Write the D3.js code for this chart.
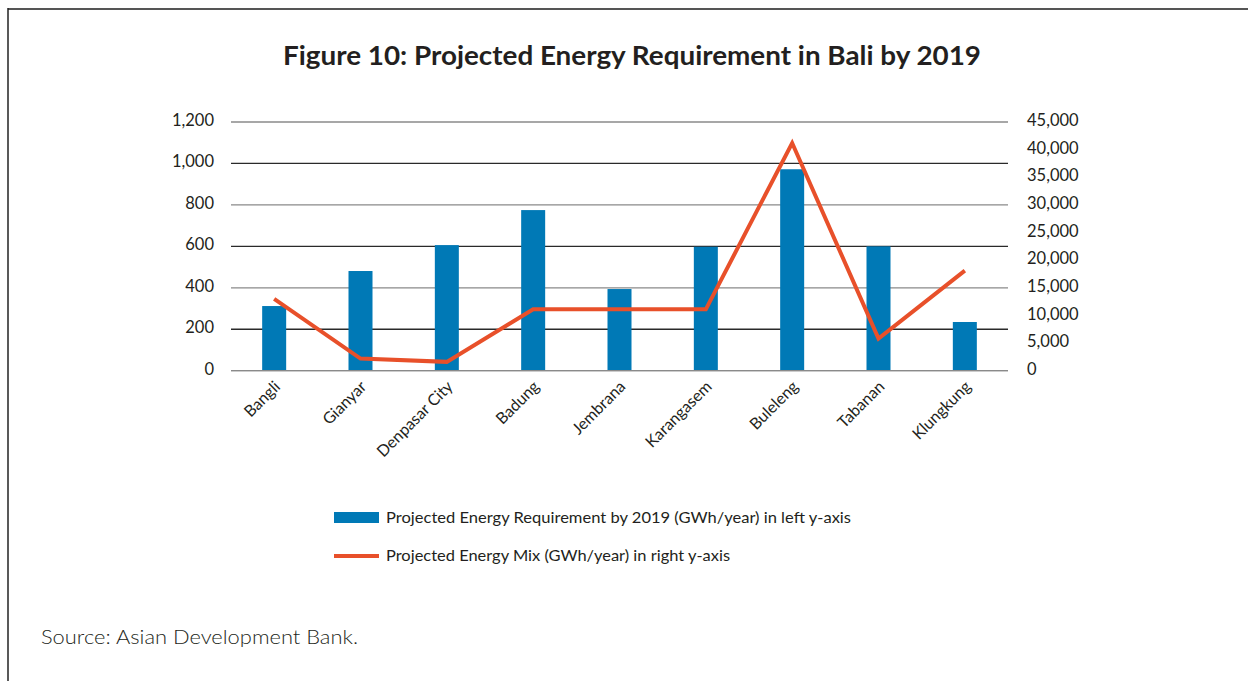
<!DOCTYPE html>
<html>
<head>
<meta charset="utf-8">
<script src="https://cdn.jsdelivr.net/npm/d3@7"></script>
<style>
  html, body { margin: 0; padding: 0; background: #fff; }
  svg { display: block; }
  text { font-family: Lato, "Open Sans", sans-serif; fill: #231f20; }
</style>
</head>
<body>
<svg id="chart" width="1248" height="681"></svg>
<script>
// Regencies / city of Bali
const regencies = ["Bangli", "Gianyar", "Denpasar City", "Badung", "Jembrana",
                   "Karangasem", "Buleleng", "Tabanan", "Klungkung"];
// Projected energy requirement by 2019 (GWh/year), left axis
const requirement = [312, 481, 606, 775, 394, 598, 972, 600, 235];
// Projected energy mix (GWh/year), right axis
const energyMix = [13000, 2200, 1600, 11100, 11100, 11100, 41200, 5800, 18100];
// Axis ticks
const leftTicks = [0, 200, 400, 600, 800, 1000, 1200];
const rightTicks = [0, 5000, 10000, 15000, 20000, 25000, 30000, 35000, 40000, 45000];

const barColor = "#0079b6";
const lineColor = "#e8502a";

const svg = d3.select("#chart");
const plot = { left: 231, right: 1008, top: 122, bottom: 370.7 };

// frame: top and left rules
svg.append("line").attr("x1", 8).attr("x2", 1248).attr("y1", 9).attr("y2", 9)
  .attr("stroke", "#555").attr("stroke-width", 2);
svg.append("line").attr("x1", 8).attr("x2", 8).attr("y1", 8).attr("y2", 681)
  .attr("stroke", "#222").attr("stroke-width", 1.5);

// title
svg.append("text")
  .attr("x", 632).attr("y", 65)
  .attr("text-anchor", "middle")
  .attr("font-size", 26).attr("font-weight", 700)
  .attr("textLength", 698).attr("lengthAdjust", "spacingAndGlyphs")
  .text("Figure 10: Projected Energy Requirement in Bali by 2019");

const x = d3.scaleBand().domain(regencies).range([plot.left, plot.right]).padding(0);
const yL = d3.scaleLinear().domain([0, 1200]).range([plot.bottom, plot.top]);
const yR = d3.scaleLinear().domain([0, 45000]).range([plot.bottom, plot.top]);

// horizontal gridlines at the left-axis ticks
svg.append("g").selectAll("line").data(leftTicks).join("line")
  .attr("x1", plot.left).attr("x2", plot.right)
  .attr("y1", d => yL(d)).attr("y2", d => yL(d))
  .attr("stroke", (d, i) => i % 2 === 0 ? "#8a8a8a" : "#2a2a2a")
  .attr("stroke-width", 1.3);

// left axis labels
const leftAxis = d3.axisLeft(yL).tickValues(leftTicks).tickSize(0).tickPadding(17)
  .tickFormat(d3.format(","));
svg.append("g").attr("transform", `translate(${plot.left},0)`).call(leftAxis)
  .call(g => g.select(".domain").remove())
  .selectAll("text").attr("font-size", 16.5).attr("font-family", "Lato, sans-serif")
  .attr("fill", "#231f20").attr("dy", "0.2em");

// right axis labels
const rightAxis = d3.axisRight(yR).tickValues(rightTicks).tickSize(0).tickPadding(19)
  .tickFormat(d3.format(","));
svg.append("g").attr("transform", `translate(${plot.right},0)`).call(rightAxis)
  .call(g => g.select(".domain").remove())
  .selectAll("text").attr("font-size", 16.5).attr("font-family", "Lato, sans-serif")
  .attr("fill", "#231f20").attr("dy", "0.22em");

// bars
const barW = 24;
svg.append("g").selectAll("rect").data(regencies).join("rect")
  .attr("x", d => x(d) + x.bandwidth() / 2 - barW / 2)
  .attr("width", barW)
  .attr("y", (d, i) => yL(requirement[i]))
  .attr("height", (d, i) => yL(0) - yL(requirement[i]))
  .attr("fill", barColor);

// baseline drawn over the bars
svg.append("line").attr("x1", plot.left).attr("x2", plot.right)
  .attr("y1", yL(0)).attr("y2", yL(0)).attr("stroke", "#8a8a8a").attr("stroke-width", 1.3);

// energy mix line
const line = d3.line()
  .x((d, i) => x(regencies[i]) + x.bandwidth() / 2)
  .y(d => yR(d));
svg.append("path").datum(energyMix)
  .attr("d", line)
  .attr("fill", "none").attr("stroke", lineColor)
  .attr("stroke-width", 4).attr("stroke-linejoin", "miter");

// category labels, rotated
const xAxis = d3.axisBottom(x).tickSize(0).tickPadding(0);
svg.append("g").attr("transform", `translate(0,${plot.bottom})`).call(xAxis)
  .call(g => g.select(".domain").remove())
  .selectAll("text")
  .attr("font-size", 16).attr("font-family", "Lato, sans-serif").attr("fill", "#231f20")
  .attr("text-anchor", "end")
  .attr("transform", "translate(3,13) rotate(-45)")
  .attr("dy", "0.35em").attr("y", 0);

// legend
const legend = svg.append("g");
legend.append("rect").attr("x", 334).attr("y", 512).attr("width", 45).attr("height", 11)
  .attr("fill", barColor);
legend.append("text").attr("x", 386).attr("y", 523).attr("font-size", 15)
  .attr("textLength", 465).attr("lengthAdjust", "spacingAndGlyphs")
  .text("Projected Energy Requirement by 2019 (GWh/year) in left y-axis");
legend.append("line").attr("x1", 334).attr("x2", 379).attr("y1", 556).attr("y2", 556)
  .attr("stroke", lineColor).attr("stroke-width", 4);
legend.append("text").attr("x", 386).attr("y", 561).attr("font-size", 15)
  .attr("textLength", 344).attr("lengthAdjust", "spacingAndGlyphs")
  .text("Projected Energy Mix (GWh/year) in right y-axis");

// source note
svg.append("text").attr("x", 41).attr("y", 644).attr("font-size", 19).attr("font-weight", 300)
  .attr("textLength", 317).attr("lengthAdjust", "spacingAndGlyphs")
  .attr("fill", "#333")
  .text("Source: Asian Development Bank.");
</script>
</body>
</html>
